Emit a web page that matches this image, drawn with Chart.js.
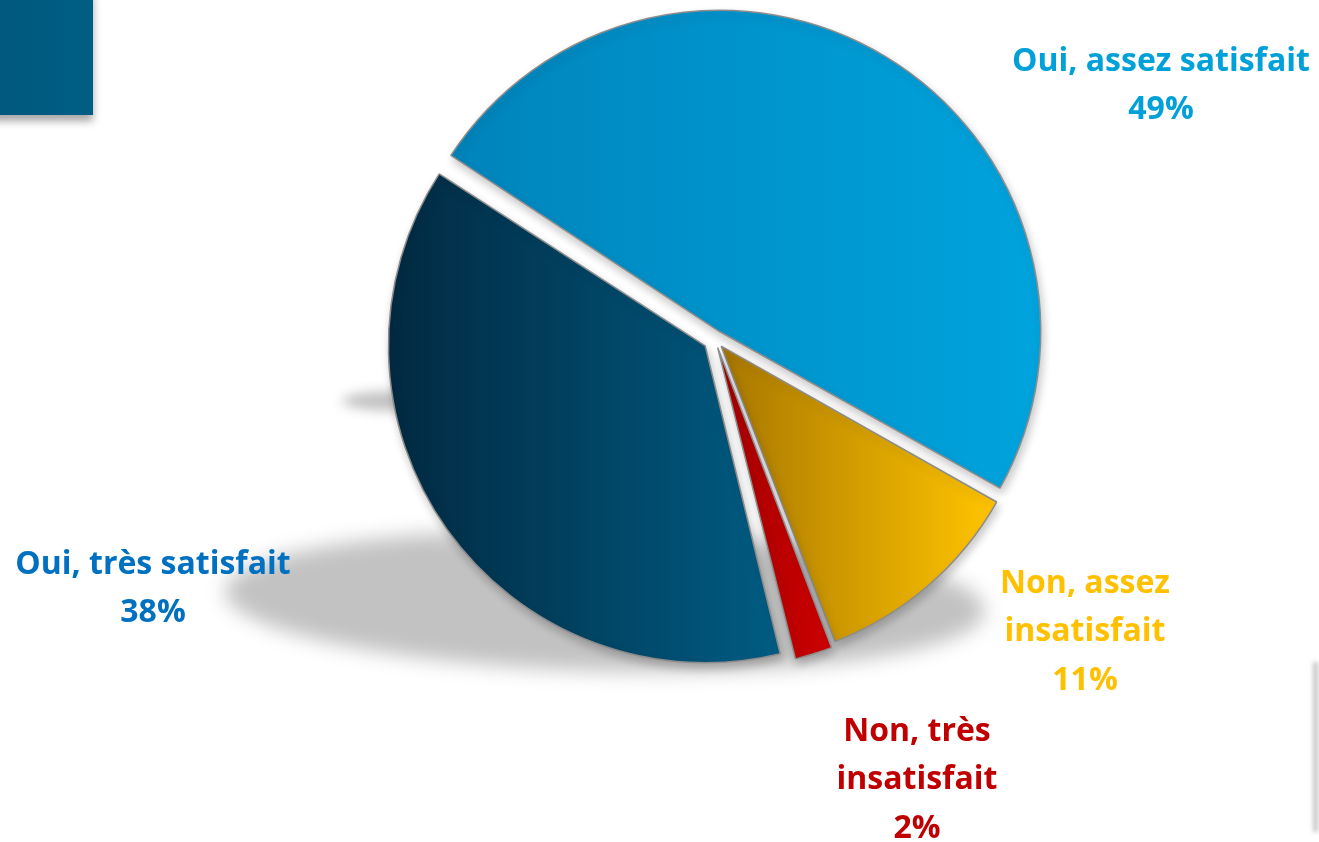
<!DOCTYPE html>
<html>
<head>
<meta charset="utf-8">
<script src="https://cdn.jsdelivr.net/npm/chart.js@4.4.0/dist/chart.umd.min.js"></script>
<style>
  html, body { margin: 0; padding: 0; background: #fff; }
  #wrap { width: 1319px; height: 842px; position: relative; }
</style>
</head>
<body>
<div id="wrap"><canvas id="pie"></canvas></div>
<script>
// data
const categories = ['Oui, assez satisfait', 'Non, assez insatisfait', 'Non, très insatisfait', 'Oui, très satisfait'];
const values = [49, 11, 2, 38];
const labelLines = [['Oui, assez satisfait'], ['Non, assez', 'insatisfait'], ['Non, très', 'insatisfait'], ['Oui, très satisfait']];

// styles
const leftColors = ['#0084bb', '#a87700', '#a50000', '#022a42'];
const rightColors = ['#00a3dd', '#ffc400', '#cc0000', '#005c83'];
const textColors = ['#00a0d8', '#ffc000', '#c00000', '#0070c0'];
const labelOffsets = [[446, -253], [370, 293], [202, 441], [-562, 250]];
const sliceOffsets = [35, 38, 36, 48];
const ROT = -57;
const RADIUS = 313;

// horizontal extent of a slice, for its left-to-right gradient
function sliceGradient(context) {
  const chart = context.chart;
  const i = context.dataIndex;
  const area = chart.chartArea;
  if (!area || i === undefined) return rightColors[i] || '#999';
  const cx = (area.left + area.right) / 2;
  const total = values.reduce((a, b) => a + b, 0);
  let start = (ROT - 90) * Math.PI / 180;
  for (let k = 0; k < i; k++) start += values[k] / total * Math.PI * 2;
  const end = start + values[i] / total * Math.PI * 2;
  const xs = [cx, cx + RADIUS * Math.cos(start), cx + RADIUS * Math.cos(end)];
  for (let a = -4; a <= 4; a++) {
    const t = a * Math.PI;
    if (t > start && t < end) xs.push(cx + RADIUS * Math.cos(t));
  }
  const x0 = Math.min(...xs), x1 = Math.max(...xs);
  const g = chart.ctx.createLinearGradient(x0, 0, x1, 0);
  g.addColorStop(0, leftColors[i]);
  g.addColorStop(1, rightColors[i]);
  return g;
}

const decorPlugin = {
  id: 'decor',
  beforeDatasetsDraw(chart) {
    const ctx = chart.ctx;
    const area = chart.chartArea;
    const cx = (area.left + area.right) / 2;
    const cy = (area.top + area.bottom) / 2;
    // corner box
    ctx.save();
    ctx.shadowColor = 'rgba(0,0,0,0.35)';
    ctx.shadowBlur = 8;
    ctx.shadowOffsetY = 6;
    const bg = ctx.createLinearGradient(0, 0, 93, 0);
    bg.addColorStop(0, '#00587e');
    bg.addColorStop(1, '#005e85');
    ctx.fillStyle = bg;
    ctx.fillRect(-10, -10, 103, 125);
    ctx.restore();
    // faint edge on the right
    ctx.save();
    ctx.filter = 'blur(2px)';
    ctx.fillStyle = 'rgba(0,0,0,0.22)';
    ctx.fillRect(1313, 662, 5, 170);
    ctx.restore();
    // ground shadow of the pie
    ctx.save();
    ctx.filter = 'blur(10px)';
    ctx.fillStyle = 'rgba(0,0,0,0.24)';
    ctx.beginPath();
    ctx.ellipse(cx - 110, cy + 262, 380, 70, 1.5 * Math.PI / 180, 0, Math.PI * 2);
    ctx.fill();
    ctx.filter = 'blur(6px)';
    ctx.beginPath();
    ctx.ellipse(cx - 318, cy + 62, 55, 10, 0, 0, Math.PI * 2);
    ctx.fill();
    ctx.restore();
  },
  beforeDatasetDraw(chart) {
    const ctx = chart.ctx;
    ctx.save();
    ctx.shadowColor = 'rgba(0,0,0,0.22)';
    ctx.shadowBlur = 10;
    ctx.shadowOffsetX = 2;
    ctx.shadowOffsetY = 5;
  },
  afterDatasetDraw(chart) {
    chart.ctx.restore();
  },
  afterDatasetsDraw(chart) {
    const ctx = chart.ctx;
    const area = chart.chartArea;
    const cx = (area.left + area.right) / 2;
    const cy = (area.top + area.bottom) / 2;
    ctx.save();
    ctx.font = 'bold 32px "Open Sans", sans-serif';
    ctx.textAlign = 'center';
    ctx.textBaseline = 'middle';
    const lh = 48.5;
    categories.forEach((c, i) => {
      const lines = labelLines[i].concat([values[i] + '%']);
      const x = cx + labelOffsets[i][0];
      const y0 = cy + labelOffsets[i][1] - (lines.length - 1) * lh / 2;
      ctx.fillStyle = textColors[i];
      lines.forEach((t, j) => ctx.fillText(t, x, y0 + j * lh));
    });
    ctx.restore();
  }
};

new Chart(document.getElementById('pie'), {
  type: 'pie',
  data: {
    labels: categories,
    datasets: [{
      data: values,
      backgroundColor: sliceGradient,
      borderColor: '#8c8c8c',
      borderWidth: 1.5,
      offset: sliceOffsets
    }]
  },
  options: {
    responsive: true,
    maintainAspectRatio: false,
    animation: false,
    rotation: ROT,
    radius: RADIUS,
    layout: { padding: { left: 111, right: 0, top: 0, bottom: 164 } },
    plugins: {
      legend: { display: false },
      tooltip: { enabled: false }
    }
  },
  plugins: [decorPlugin]
});
</script>
</body>
</html>
